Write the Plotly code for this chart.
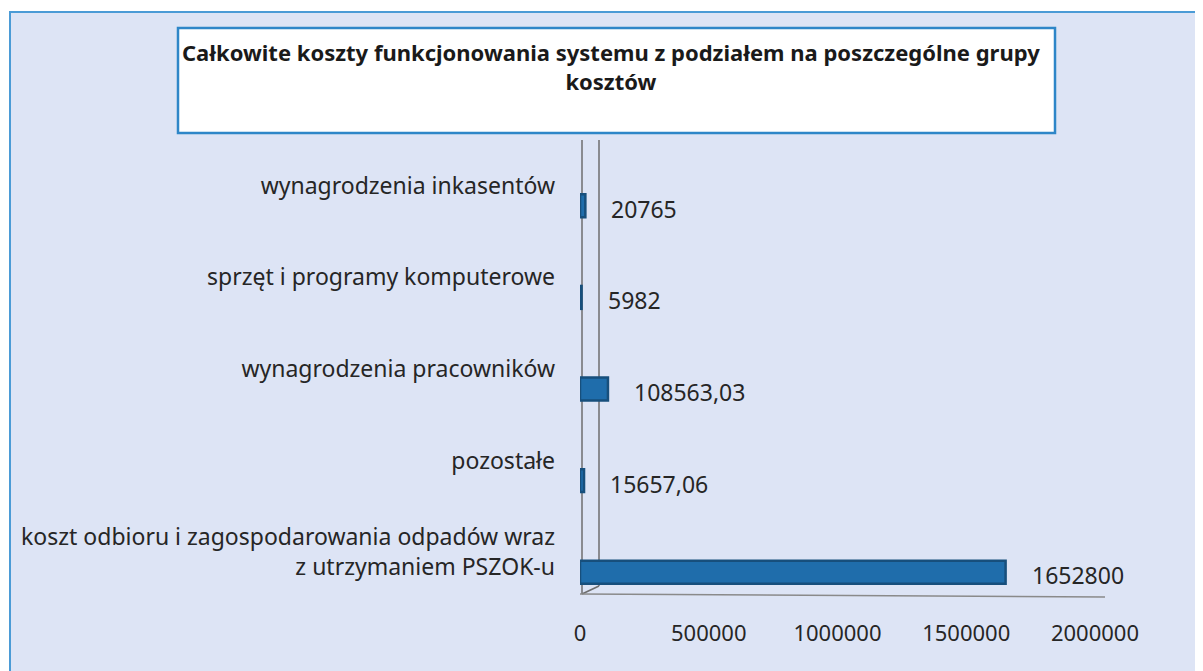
import plotly.graph_objects as go

categories = [
    "koszt odbioru i zagospodarowania odpadów wraz<br>z utrzymaniem PSZOK-u",
    "pozostałe",
    "wynagrodzenia pracowników",
    "sprzęt i programy komputerowe",
    "wynagrodzenia inkasentów",
]
values = [1652800, 15657.06, 108563.03, 5982, 20765]
value_labels = ["1652800", "15657,06", "108563,03", "5982", "20765"]
x_ticks = [0, 500000, 1000000, 1500000, 2000000]

OFF = 8  # page body margin
W, H = 1203 - OFF, 671 - OFF
L, R, T, B = 580 - OFF, 1095 - OFF, 140 - OFF, 598 - OFF

def px(p):
    return (p - OFF - L) / (R - L)

def py(p):
    return (B - (p - OFF)) / (B - T)

FONT = "Noto Sans"
TXT = "#262626"

fig = go.Figure()
fig.add_trace(go.Bar(
    x=values, y=categories, orientation="h",
    marker=dict(color="#1f6dab", line=dict(color="#174f7c", width=2.5)),
    yaxis="y", showlegend=False, hoverinfo="skip",
))
fig.add_trace(go.Scatter(
    x=[0] * len(categories), y=categories, mode="markers",
    marker=dict(opacity=0), yaxis="y2", showlegend=False, hoverinfo="skip",
))

for c, v, t in zip(categories, values, value_labels):
    fig.add_annotation(x=v, y=c, xref="x", yref="y", text=t, showarrow=False,
                       xanchor="left", yanchor="middle", xshift=24, yshift=-3,
                       font=dict(family=FONT, size=23, color=TXT))

shift = 20 / ((B - T) / len(categories))

fig.update_layout(
    width=W, height=H,
    margin=dict(l=L, r=W - R, t=T, b=H - B, pad=0),
    paper_bgcolor="white",
    plot_bgcolor="rgba(0,0,0,0)",
    bargap=0.75,
    xaxis=dict(range=[0, 2000000], tickvals=x_ticks, ticktext=[str(v) for v in x_ticks],
               showgrid=False, zeroline=False, showline=False, ticks="",
               tickfont=dict(family=FONT, size=22, color=TXT), ticklabelstandoff=20),
    yaxis=dict(type="category", categoryarray=categories, range=[-0.5 + shift, 4.5 + shift],
               showticklabels=False, showgrid=False, zeroline=False, showline=False, ticks=""),
    yaxis2=dict(type="category", categoryarray=categories, range=[-0.5, 4.5], overlaying="y",
                side="left", showgrid=False, zeroline=False, showline=False, ticks="",
                tickfont=dict(family=FONT, size=23, color=TXT), ticklabelstandoff=24),
)

shapes = [
    dict(type="rect", xref="paper", yref="paper", x0=px(10), x1=px(1215), y0=py(690), y1=py(12),
         fillcolor="#dde4f5", line=dict(color="#4b9bd6", width=2), layer="below"),
    dict(type="rect", xref="paper", yref="paper", x0=px(178), x1=px(1055), y0=py(133), y1=py(28),
         fillcolor="white", line=dict(color="#2e86c8", width=2.5), layer="below"),
    # 3D walls and floor
    dict(type="line", xref="paper", yref="paper", x0=px(582), x1=px(582), y0=py(594), y1=py(140),
         line=dict(color="#6e6e6e", width=1.5), layer="below"),
    dict(type="line", xref="paper", yref="paper", x0=px(599), x1=px(599), y0=py(586), y1=py(140),
         line=dict(color="#6e6e6e", width=1.5), layer="below"),
    dict(type="line", xref="paper", yref="paper", x0=px(582), x1=px(599), y0=py(594), y1=py(586),
         line=dict(color="#6e6e6e", width=1.5), layer="below"),
    dict(type="line", xref="paper", yref="paper", x0=px(580), x1=px(1105), y0=py(594), y1=py(597),
         line=dict(color="#8a8a8a", width=1.5), layer="below"),
]
fig.update_layout(shapes=shapes)

fig.add_annotation(
    xref="paper", yref="paper", x=px(611), y=py(67), xanchor="center", yanchor="middle",
    showarrow=False,
    text="<b>Całkowite koszty funkcjonowania systemu z podziałem na poszczególne grupy<br>kosztów</b>",
    font=dict(family=FONT, size=22, color="#1a1a1a"), align="center",
)

fig.write_html("out.html")
